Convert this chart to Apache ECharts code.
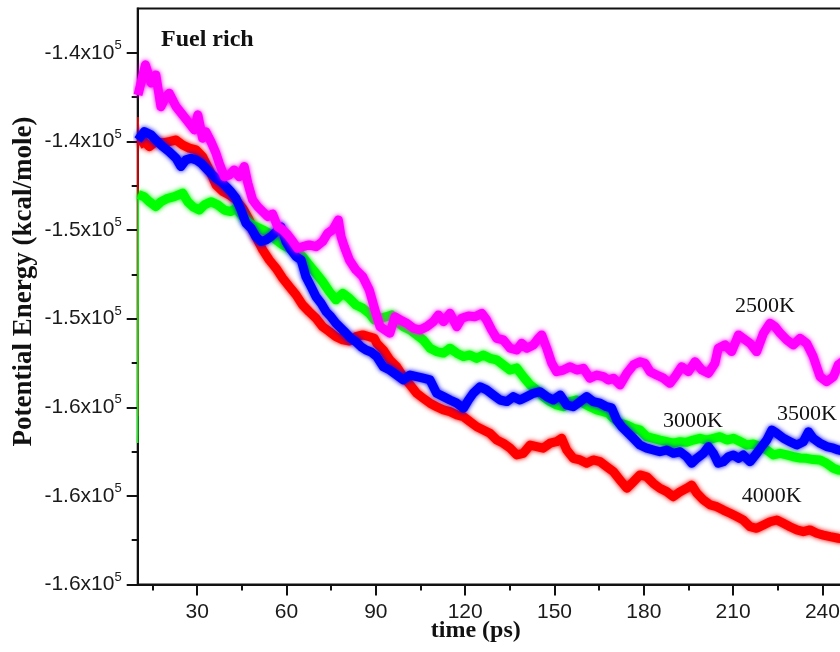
<!DOCTYPE html>
<html>
<head>
<meta charset="utf-8">
<script src="https://cdn.jsdelivr.net/npm/echarts@6/dist/echarts.min.js"></script>
<style>
  html, body { margin: 0; padding: 0; background: #fff; }
  #chart { width: 840px; height: 652px; }
</style>
</head>
<body>
<div id="chart"></div>
<script>
// Potential energy (kcal/mole) against simulation time (ps), fuel-rich mixture
const s2500 = [[10.1,-137380],[12.6,-135680],[14.5,-136700],[16.1,-136250],[17.8,-138040],[19.5,-137470],[20.6,-137280],[22.9,-138040],[25.1,-138500],[27.3,-138970],
[29.0,-139350],[30.2,-138500],[31.8,-139820],[32.9,-139450],[34.6,-140010],[36.3,-140670],[37.4,-141230],[39.1,-141990],[40.8,-141890],[42.4,-141610],
[44.1,-141990],[45.8,-141420],[47.0,-142360],[48.6,-143300],[50.3,-143680],[52.0,-143960],[53.7,-144240],[55.3,-144090],[57.0,-144810],[58.7,-144990],
[60.4,-145280],[62.1,-145650],[63.7,-146030],[65.4,-145940],[67.6,-145840],[69.9,-145940],[72.1,-145650],[73.8,-145180],[75.5,-144990],[77.4,-144430],
[78.3,-145370],[79.4,-145940],[81.1,-146690],[83.3,-147250],[85.6,-147630],[87.8,-148380],[89.7,-149510],[91.4,-150450],[93.1,-150640],[94.7,-150820],
[96.4,-149890],[98.1,-150070],[100.4,-150260],[102.6,-150540],[104.8,-150640],[107.1,-150450],[109.3,-150170],[111.0,-149790],[112.7,-150170],[114.9,-149700],
[117.2,-150450],[118.8,-149980],[121.1,-149850],[123.3,-149890],[125.6,-149700],[127.2,-150070],[128.9,-150640],[130.6,-151110],[132.8,-151200],[135.1,-151670],
[137.3,-151770],[139.0,-151390],[140.7,-151670],[142.9,-151480],[144.6,-151110],[145.7,-150920],[147.4,-151670],[149.1,-152520],[150.7,-152990],[153.0,-152900],
[155.2,-152710],[157.5,-152900],[159.7,-152800],[161.9,-153360],[164.2,-153180],[166.4,-153270],[168.1,-153460],[169.8,-153360],[172.0,-153740],[174.3,-153080],
[176.5,-152610],[178.7,-152430],[180.4,-152520],[182.1,-152990],[184.3,-153180],[186.6,-153360],[188.8,-153650],[190.5,-153270],[192.7,-152710],[195.0,-152990],
[197.2,-152430],[199.5,-152900],[201.7,-153080],[203.9,-152520],[205.0,-151670],[207.3,-151480],[209.5,-151860],[211.8,-150920],[213.4,-151110],[215.7,-151390],
[217.9,-151860],[220.2,-150820],[222.4,-150260],[224.1,-150450],[225.8,-150820],[228.0,-151200],[230.2,-151480],[232.5,-151110],[234.7,-151390],[236.9,-152140],
[239.2,-153270],[241.4,-153560],[243.7,-153270],[245.3,-152610],[247.5,-152330]];

// first sample of the 3000K run, before the jump
const s3000Start = [[10.0,-157010],[10.2,-143000]];
const s3000 = [[10.2,-143000],[10.5,-143020],[12.2,-143120],[13.9,-143400],[16.1,-143680],[17.8,-143400],[20.1,-143210],[22.3,-143120],[25.1,-142920],
[26.8,-143400],[28.5,-143680],[30.7,-143870],[32.4,-143580],[34.6,-143400],[36.9,-143580],[39.1,-143870],[41.3,-143960],[43.0,-143770],[45.3,-144240],
[47.5,-144620],[49.7,-144810],[52.0,-144990],[54.2,-145180],[56.5,-145560],[58.7,-145840],[60.9,-146030],[63.2,-146120],[65.4,-146500],[67.6,-146970],
[69.9,-147440],[72.1,-147910],[74.4,-148480],[76.6,-148940],[78.9,-148570],[81.1,-148850],[83.3,-149230],[85.6,-149410],[87.8,-149700],[89.5,-150070],
[91.4,-149980],[93.6,-149890],[95.3,-149790],[97.0,-150170],[99.2,-150450],[101.5,-150640],[103.7,-150920],[105.9,-151200],[108.2,-151670],[110.4,-151860],
[112.7,-151940],[114.9,-151670],[117.2,-151950],[119.4,-152140],[121.6,-152050],[123.9,-152240],[126.1,-152050],[128.3,-152240],[130.6,-152330],[132.8,-152610],
[135.1,-152900],[137.3,-152780],[139.5,-153270],[141.8,-153740],[144.0,-154020],[146.2,-154400],[148.5,-154680],[150.7,-154870],[153.0,-154970],[155.2,-154680],
[157.5,-154590],[159.7,-154770],[161.9,-154970],[164.2,-155150],[166.4,-155250],[168.1,-155340],[169.8,-155620],[172.0,-155900],[174.3,-156000],[176.5,-156190],
[178.7,-156280],[181.0,-156660],[183.2,-156750],[185.4,-156850],[187.7,-156940],[189.9,-157030],[192.2,-156940],[194.4,-156980],[196.6,-156850],[198.9,-156750],
[201.1,-156850],[203.4,-156750],[205.6,-156660],[207.9,-156850],[210.1,-156750],[212.4,-156940],[214.6,-157130],[216.8,-157070],[219.1,-157220],[221.3,-157410],
[223.5,-157690],[225.8,-157600],[228.0,-157690],[230.2,-157790],[232.5,-157860],[234.7,-157880],[236.9,-157950],[239.2,-157970],[241.4,-158160],[243.7,-158440],
[245.3,-158540],[247.5,-158600]];

const s3500 = [[10.1,-139920],[10.5,-139820],[12.2,-139450],[14.5,-139630],[16.1,-139920],[18.4,-140290],[20.6,-140580],[22.9,-140950],[24.5,-141420],[26.2,-141040],
[27.9,-140950],[29.6,-141040],[31.3,-141230],[32.9,-141510],[34.6,-141800],[36.3,-142080],[38.0,-142270],[39.7,-142550],[41.3,-142830],[43.0,-143210],
[44.7,-143870],[46.4,-144620],[48.1,-144900],[49.7,-145370],[51.4,-145650],[53.1,-145560],[54.8,-145370],[56.5,-145090],[58.1,-144810],[59.8,-145650],
[61.5,-146120],[63.2,-146500],[64.9,-146690],[66.5,-147630],[68.2,-148190],[69.9,-148760],[71.6,-149130],[73.3,-149610],[74.9,-149890],[76.6,-150260],
[78.3,-150540],[80.0,-150820],[81.6,-151110],[83.3,-151300],[85.0,-151580],[86.7,-151770],[88.4,-151880],[90.3,-152140],[92.5,-152710],[94.7,-152900],
[97.0,-153180],[99.2,-153460],[101.5,-153180],[103.7,-153270],[105.9,-153360],[108.2,-153460],[110.4,-154210],[112.7,-154400],[114.9,-154590],[117.2,-154770],
[119.4,-155060],[121.1,-154590],[122.7,-154210],[125.0,-153840],[127.2,-154020],[129.5,-154310],[131.7,-154590],[134.0,-154680],[136.2,-154400],[138.4,-154590],
[140.7,-154400],[142.9,-154210],[145.1,-154120],[147.4,-154400],[149.6,-154590],[151.9,-154310],[154.1,-154870],[156.3,-154970],[158.6,-154680],[160.8,-154400],
[163.0,-154680],[165.3,-154770],[167.5,-154970],[169.2,-155040],[170.9,-155720],[172.6,-156100],[174.3,-156380],[176.5,-156750],[178.7,-157130],[181.0,-157310],
[183.2,-157410],[185.4,-157510],[187.7,-157410],[189.9,-157600],[192.2,-157510],[194.4,-157790],[196.1,-158160],[197.8,-157880],[200.0,-157600],[201.7,-157220],
[203.4,-157600],[205.0,-158160],[206.7,-158070],[208.4,-157790],[210.1,-157690],[211.8,-157880],[213.4,-157690],[215.7,-158070],[217.9,-157600],[219.6,-157220],
[221.3,-156850],[223.0,-156280],[224.7,-156470],[226.9,-156750],[229.1,-156940],[231.4,-157130],[233.6,-156940],[235.3,-156380],[236.9,-156750],[239.2,-157030],
[241.4,-157220],[243.7,-157310],[245.3,-157410],[247.5,-157500]];

// first samples of the 4000K run, before it settles
const s4000Start = [[10.0,-155490],[10.1,-138620],[10.5,-140200]];
const s4000 = [[10.5,-140200],[12.2,-140010],[13.9,-140290],[16.1,-140010],[18.4,-140090],[20.6,-140010],[22.9,-139920],[25.1,-140200],
[27.3,-140380],[29.6,-140480],[31.8,-140860],[34.1,-141610],[36.3,-142460],[38.6,-142830],[40.8,-143020],[43.0,-143300],[45.3,-143770],[47.5,-144430],
[49.7,-145370],[52.0,-146120],[54.2,-146690],[56.5,-147160],[58.7,-147720],[60.9,-148190],[63.2,-148660],[65.4,-149230],[67.6,-149610],[69.9,-149980],
[72.1,-150450],[74.4,-150730],[76.6,-151020],[78.9,-151200],[81.1,-151260],[83.3,-151020],[85.6,-150920],[87.8,-151020],[89.5,-151110],[90.3,-151390],
[92.5,-151770],[94.7,-152330],[97.0,-152710],[99.2,-153270],[101.5,-153740],[103.7,-154210],[105.9,-154490],[108.2,-154770],[110.4,-154970],[112.7,-155150],
[114.9,-155250],[117.2,-155430],[119.4,-155530],[121.6,-155810],[123.9,-156100],[126.1,-156280],[128.3,-156470],[130.6,-156850],[132.8,-157030],[135.1,-157310],
[137.3,-157690],[139.5,-157600],[141.8,-157130],[144.0,-157220],[146.2,-157310],[148.5,-157030],[150.7,-156940],[152.4,-156750],[154.1,-157410],[156.3,-157880],
[158.6,-157970],[160.8,-158160],[163.0,-157970],[165.3,-158070],[167.5,-158350],[169.8,-158630],[172.0,-159100],[174.3,-159570],[176.5,-159200],[178.7,-158820],
[181.0,-158920],[183.2,-159290],[185.4,-159570],[187.7,-159760],[189.9,-160050],[192.2,-159760],[194.4,-159570],[196.1,-159390],[197.8,-159850],[200.0,-160230],
[202.3,-160510],[204.5,-160610],[206.7,-160800],[209.0,-160980],[211.2,-161170],[213.4,-161360],[215.7,-161740],[217.9,-161830],[220.2,-161640],[222.4,-161460],
[224.7,-161360],[226.9,-161550],[229.1,-161740],[231.4,-161920],[233.6,-162020],[235.8,-161920],[238.1,-162110],[240.3,-162210],[242.6,-162300],[245.3,-162390],
[247.5,-162450]];

// Series names and where each name is written (time, energy)
const seriesNames = ['2500K', '3000K', '3500K', '4000K'];
const seriesColors = ['#ff00ff', '#00ff00', '#0000ff', '#ff0000'];
const nameSpots = [[220.7, -149280], [196.5, -155770], [234.8, -155380], [223.0, -160010]];

// Axis ticks
const xMajor = [30, 60, 90, 120, 150, 180, 210, 240];
const xMinor = [15, 45, 75, 105, 135, 165, 195, 225];
const yMajor = [-165000, -160000, -155000, -150000, -145000, -140000, -135000];
const yMinor = [-162500, -157500, -152500, -147500, -142500, -137500];
const yTickText = ['-1.6', '-1.6', '-1.6', '-1.5', '-1.5', '-1.4', '-1.4'];

const ink = '#111';
const X_MIN = 10, X_MAX = 250, Y_MIN = -165000, Y_MAX = -132500;

const chart = echarts.init(document.getElementById('chart'), null, { renderer: 'canvas' });

const bySeries = [s2500, s3000, s3500, s4000];
const startBits = [null, s3000Start, null, s4000Start];
// drawing order: 4000K first, 2500K last (on top)
const drawOrder = [3, 1, 2, 0];

const series = [];
drawOrder.forEach(function (i) {
  if (startBits[i]) {
    series.push({
      name: seriesNames[i] + ' start',
      type: 'line', data: startBits[i], showSymbol: false, symbol: 'none',
      lineStyle: { color: seriesColors[i], width: 1.5 }, silent: true
    });
  }
  series.push({
    name: seriesNames[i],
    type: 'line',
    data: bySeries[i],
    showSymbol: false,
    symbol: 'none',
    smooth: false,
    lineStyle: { color: seriesColors[i], width: 9, join: 'round', cap: 'butt',
                 shadowColor: seriesColors[i], shadowBlur: 5 },
    markPoint: {
      symbol: 'circle',
      symbolSize: 0,
      silent: true,
      label: {
        show: true, position: 'inside', formatter: '{b}',
        fontFamily: 'Liberation Serif', fontSize: 22, color: ink
      },
      data: [{ name: seriesNames[i], coord: nameSpots[i] }]
    }
  });
});

const option = {
  backgroundColor: '#ffffff',
  animation: false,
  grid: {
    left: 137.7, top: 8.5, width: 714.5, height: 576,
    show: true, borderColor: ink, borderWidth: 2,
    containLabel: false, outerBoundsMode: 'none'
  },
  xAxis: [
    {
      type: 'value', min: X_MIN, max: X_MAX, position: 'bottom',
      axisLine: { show: true, onZero: false, lineStyle: { color: ink, width: 2 } },
      axisTick: { show: true, customValues: xMajor, length: 11, lineStyle: { color: ink, width: 2 } },
      axisLabel: { show: true, customValues: xMajor, margin: 17, fontSize: 21,
                   fontFamily: 'Liberation Sans', color: '#1a1a1a' },
      splitLine: { show: false }
    },
    {
      type: 'value', min: X_MIN, max: X_MAX, position: 'bottom',
      axisLine: { show: false },
      axisTick: { show: true, customValues: xMinor, length: 6, lineStyle: { color: ink, width: 2 } },
      axisLabel: { show: false },
      splitLine: { show: false }
    }
  ],
  yAxis: [
    {
      type: 'value', min: Y_MIN, max: Y_MAX, position: 'left',
      axisLine: { show: true, onZero: false, lineStyle: { color: ink, width: 2 } },
      axisTick: { show: true, customValues: yMajor, length: 11, lineStyle: { color: ink, width: 2 } },
      axisLabel: {
        show: true, customValues: yMajor, margin: 16,
        formatter: function (v) {
          const k = yMajor.indexOf(v);
          return '{m|' + yTickText[k] + 'x10}{s|5}';
        },
        rich: {
          m: { fontSize: 21, fontFamily: 'Liberation Sans', color: '#1a1a1a', lineHeight: 28, verticalAlign: 'middle' },
          s: { fontSize: 13, fontFamily: 'Liberation Sans', color: '#1a1a1a', lineHeight: 14, verticalAlign: 'top' }
        }
      },
      splitLine: { show: false }
    },
    {
      type: 'value', min: Y_MIN, max: Y_MAX, position: 'left',
      axisLine: { show: false },
      axisTick: { show: true, customValues: yMinor, length: 6, lineStyle: { color: ink, width: 2 } },
      axisLabel: { show: false },
      splitLine: { show: false }
    }
  ],
  graphic: [
    {
      type: 'text', x: 24, y: 281.5, rotation: Math.PI / 2,
      style: { text: 'Potential Energy (kcal/mole)', font: 'bold 27px "Liberation Serif"',
               fill: ink, align: 'center', verticalAlign: 'middle' }
    },
    {
      type: 'text', x: 475.8, y: 631,
      style: { text: 'time (ps)', font: 'bold 24px "Liberation Serif"',
               fill: ink, align: 'center', verticalAlign: 'middle' }
    },
    {
      type: 'text', x: 161, y: 39.6,
      style: { text: 'Fuel rich', font: 'bold 24px "Liberation Serif"',
               fill: ink, align: 'left', verticalAlign: 'middle' }
    }
  ],
  series: series
};

chart.setOption(option);
</script>
</body>
</html>
